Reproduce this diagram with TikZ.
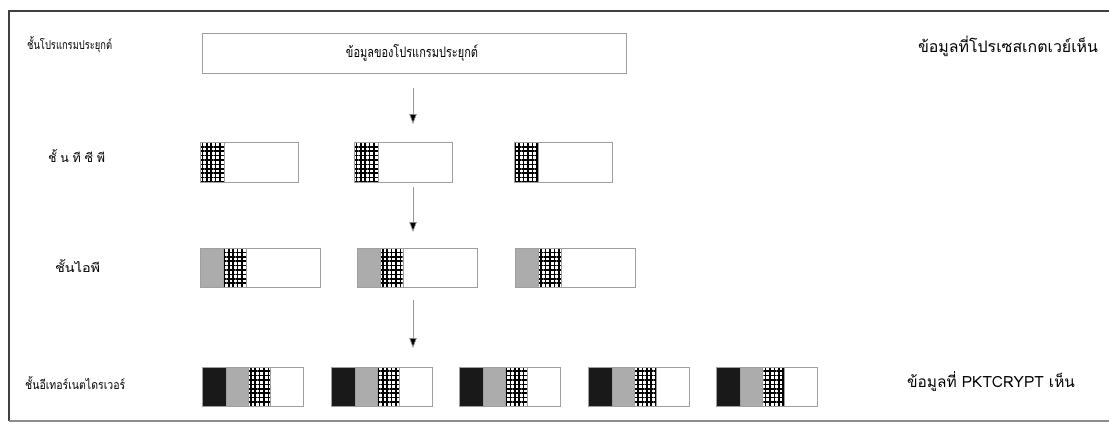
\documentclass[tikz,border=0pt]{standalone}
\usepackage{fontspec}
\usepackage{graphicx}
\newfontfamily\thai[Script=Thai]{Loma}
\usetikzlibrary{arrows.meta,patterns.meta}
\newcommand\fitw[2]{\resizebox{#1pt}{!}{\thai #2}}
\newcommand\fitwh[3]{\resizebox{#1pt}{#2pt}{\thai #3}}
\begin{document}
\begin{tikzpicture}[x=1pt,y=-1pt,
  seg/.style={anchor=north west, inner sep=0pt, outer sep=0pt, draw=gray!75, line width=0.7pt},
  tcpseg/.style={seg, minimum height=40pt},
  ipseg/.style={seg, minimum height=39pt},
  ethseg/.style={seg, minimum height=39pt},
  dots/.style={preaction={pattern={Lines[angle=0,distance=4.4pt,line width=1.5pt]}},
               pattern={Lines[angle=90,distance=4.4pt,line width=1.5pt]}},
  grayfill/.style={fill=gray!65},
  blackfill/.style={fill=black!90},
  lbl/.style={inner sep=0pt, anchor=west},
  arr/.style={draw=gray!80, line width=0.7pt, -{Triangle[length=10pt,width=7.5pt,fill=black]}},
  frame/.style={line width=1.8pt, draw=black!75}
]
\useasboundingbox (0,0) rectangle (1109,424);
% frame
\draw[frame] (1109,11) -- (9,11) -- (9,421);
\draw[line width=1.4pt, draw=black!45] (9,421) -- (1109,421);

% application row
\node[seg, minimum width=424pt, minimum height=40pt] (app) at (202,33) {};
\node[inner sep=0pt] (apptxt) at (412,53) {\fitwh{132}{13}{ข้อมูลของโปรแกรมประยุกต์}};
\node[lbl] (l1) at (27,45) {\fitwh{85}{13}{ชั้นโปรแกรมประยุกต์}};
\node[inner sep=0pt] (r1) at (1008,46) {\fitw{180}{ข้อมูลที่โปรเซสเกตเวย์เห็น}};

% tcp row
\node[lbl] (l2) at (48,156) {\fitwh{57}{13}{ชั้\kern3ptน\kern3ptที\kern3ptซี\kern3ptพี}};
\foreach \x [count=\i] in {200,354,514} {
  \node[tcpseg, minimum width=98pt] (tcp\i) at (\x,142) {};
  \node[tcpseg, dots, minimum width=24pt] (tcp\i-h) at (\x,142) {};
}

% ip row
\node[lbl] (l3) at (55,266) {\fitwh{45}{13}{ชั้นไอพี}};
\foreach \x [count=\i] in {200,357,515} {
  \node[ipseg, minimum width=120pt] (ip\i) at (\x,248) {};
  \node[ipseg, dots, minimum width=46pt] (ip\i-t) at (\x,248) {};
  \node[ipseg, grayfill, minimum width=23pt] (ip\i-h) at (\x,248) {};
}

% ethernet row
\node[lbl] (l4) at (25,383) {\fitwh{100}{13}{ชั้นอีเทอร์เนตไดรเวอร์}};
\node[inner sep=0pt] (r2) at (991,382) {\fitw{168}{ข้อมูลที่ PKTCRYPT เห็น}};
\foreach \x [count=\i] in {202,331,459,588,716} {
  \node[ethseg, minimum width=101pt] (eth\i) at (\x,367) {};
  \node[ethseg, dots, minimum width=68pt] (eth\i-t) at (\x,367) {};
  \node[ethseg, grayfill, minimum width=46pt] (eth\i-i) at (\x,367) {};
  \node[ethseg, blackfill, minimum width=24pt] (eth\i-h) at (\x,367) {};
}

% arrows
\coordinate (a1s) at (413,88);  \coordinate (a1e) at (413,124);
\coordinate (a2s) at (413,187); \coordinate (a2e) at (413,232);
\coordinate (a3s) at (413,300); \coordinate (a3e) at (413,348);
\draw[arr] (a1s) -- (a1e);
\draw[arr] (a2s) -- (a2e);
\draw[arr] (a3s) -- (a3e);
\end{tikzpicture}
\end{document}
